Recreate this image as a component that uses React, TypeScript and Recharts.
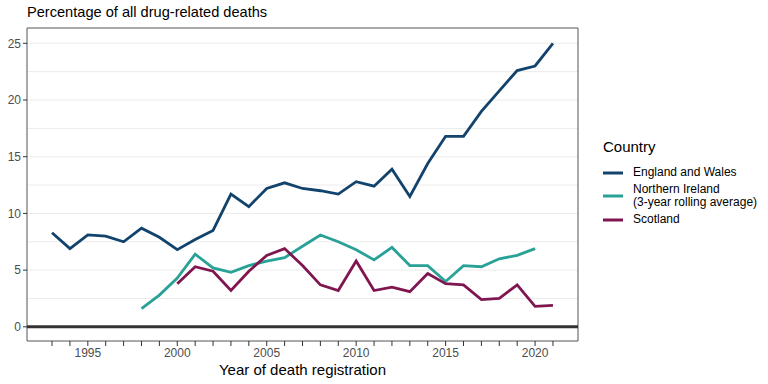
import React from "react";
import {
  LineChart,
  Line,
  XAxis,
  YAxis,
  CartesianGrid,
  ReferenceLine,
  ReferenceArea,
} from "recharts";

const years = [
  1993, 1994, 1995, 1996, 1997, 1998, 1999, 2000, 2001, 2002, 2003, 2004, 2005,
  2006, 2007, 2008, 2009, 2010, 2011, 2012, 2013, 2014, 2015, 2016, 2017, 2018,
  2019, 2020, 2021,
];

const englandWales = [
  8.3, 6.9, 8.1, 8.0, 7.5, 8.7, 7.9, 6.8, 7.7, 8.5, 11.7, 10.6, 12.2, 12.7, 12.2,
  12.0, 11.7, 12.8, 12.4, 13.9, 11.5, 14.4, 16.8, 16.8, 19.0, 20.8, 22.6, 23.0,
  25.0,
];

const northernIreland = [
  null, null, null, null, null, 1.6, 2.8, 4.3, 6.4, 5.2, 4.8, 5.4, 5.8, 6.1, 7.1,
  8.1, 7.5, 6.8, 5.9, 7.0, 5.4, 5.4, 4.0, 5.4, 5.3, 6.0, 6.3, 6.9, null,
];

const scotland = [
  null, null, null, null, null, null, null, 3.8, 5.3, 4.9, 3.2, 4.9, 6.3, 6.9,
  5.4, 3.7, 3.2, 5.8, 3.2, 3.5, 3.1, 4.7, 3.8, 3.7, 2.4, 2.5, 3.7, 1.8, 1.9,
];

const yTicks = [0, 5, 10, 15, 20, 25];
const gridValues = [2.5, 5, 7.5, 10, 12.5, 15, 17.5, 20, 22.5, 25];
const xDomain = [1991.6, 2022.4];
const yDomain = [-1.25, 26.35];

const series = [
  { key: "ew", name: "England and Wales", color: "#12436D" },
  { key: "ni", name: "Northern Ireland\n(3-year rolling average)", color: "#28A197" },
  { key: "sc", name: "Scotland", color: "#801650" },
];

const data = years.map((year, i) => ({
  year,
  ew: englandWales[i],
  ni: northernIreland[i],
  sc: scotland[i],
}));

const FONT = "'Liberation Sans', Arial, sans-serif";

const LegendBox = () => (
  <div
    style={{
      position: "absolute",
      left: 603,
      top: 138,
      width: 165,
      fontFamily: FONT,
      color: "#000",
    }}
  >
    <div style={{ fontSize: 15, lineHeight: "17px", marginBottom: 11 }}>Country</div>
    {series.map((s) => (
      <div
        key={s.key}
        style={{ display: "flex", alignItems: "center", marginBottom: 4 }}
      >
        <svg width={20} height={4} style={{ marginRight: 10, flex: "none" }}>
          <line x1={0} y1={2} x2={20} y2={2} stroke={s.color} strokeWidth={3} />
        </svg>
        <div style={{ fontSize: 12, lineHeight: "13px", whiteSpace: "pre" }}>{s.name}</div>
      </div>
    ))}
  </div>
);

export default function App() {
  return (
    <div
      style={{
        position: "absolute",
        left: 0,
        top: 0,
        width: 768,
        height: 384,
        background: "#fff",
        fontFamily: FONT,
      }}
    >
      <div
        style={{
          position: "absolute",
          left: 27,
          top: 4,
          fontSize: 14.6,
          color: "#000",
          fontFamily: FONT,
        }}
      >
        Percentage of all drug-related deaths
      </div>
      <LineChart
        width={768}
        height={384}
        data={data}
        margin={{ top: 28, right: 190, bottom: 0, left: 0 }}
      >
        <CartesianGrid
          vertical={false}
          horizontalValues={gridValues}
          stroke="#ebebeb"
          strokeWidth={1}
        />
        <XAxis
          dataKey="year"
          type="number"
          domain={xDomain}
          ticks={years}
          allowDataOverflow
          interval={0}
          tickFormatter={(v: number) => (v % 5 === 0 ? String(v) : "")}
          tickSize={5}
          tickLine={{ stroke: "#333" }}
          axisLine={false}
          height={43}
          tick={{ fill: "#4d4d4d", fontSize: 12, fontFamily: FONT }}
          label={{
            value: "Year of death registration",
            position: "insideBottom",
            offset: 9,
            fill: "#000",
            fontSize: 15,
            fontFamily: FONT,
          }}
        />
        <YAxis
          type="number"
          domain={yDomain}
          ticks={yTicks}
          allowDataOverflow
          width={27}
          tickSize={4}
          tickLine={{ stroke: "#333" }}
          axisLine={false}
          tick={{ fill: "#4d4d4d", fontSize: 12, fontFamily: FONT }}
        />
        <ReferenceArea
          x1={xDomain[0]}
          x2={xDomain[1]}
          y1={yDomain[0]}
          y2={yDomain[1]}
          fill="none"
          stroke="#555"
          strokeWidth={1}
          ifOverflow="visible"
        />
        <ReferenceLine y={0} stroke="#333" strokeWidth={3} />
        {series.map((s) => (
          <Line
            key={s.key}
            dataKey={s.key}
            name={s.name}
            stroke={s.color}
            strokeWidth={2.8}
            dot={false}
            activeDot={false}
            isAnimationActive={false}
            type="linear"
          />
        ))}
      </LineChart>
      <LegendBox />
    </div>
  );
}
